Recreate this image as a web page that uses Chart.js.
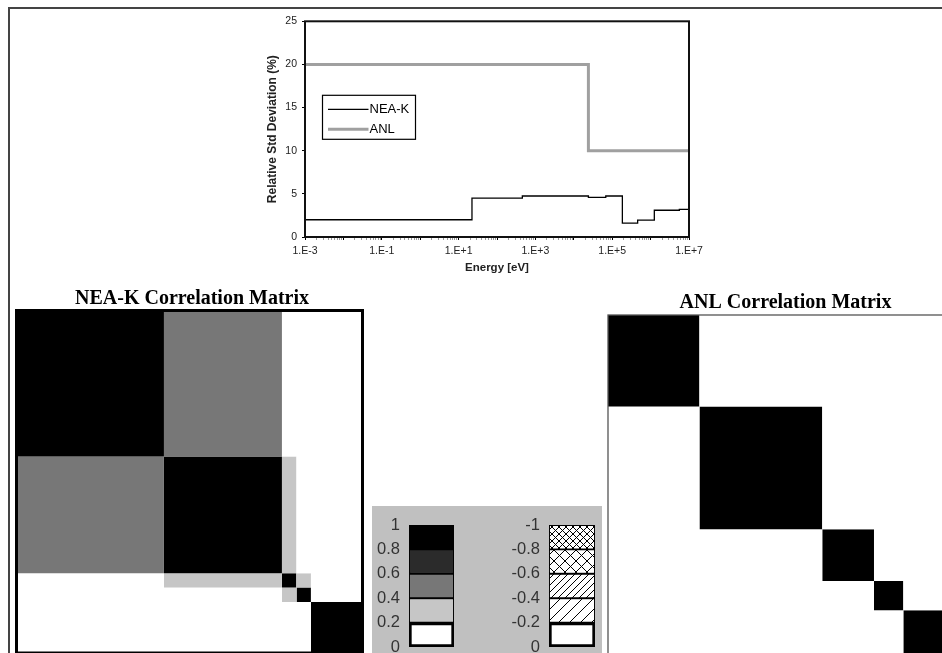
<!DOCTYPE html>
<html><head><meta charset="utf-8">
<script src="https://cdn.jsdelivr.net/npm/chart.js@4.4.1/dist/chart.umd.min.js"></script>
<style>
html,body{margin:0;padding:0;width:942px;height:653px;overflow:hidden;background:#fff;}
#stage{position:relative;width:942px;height:653px;overflow:hidden;}
canvas{position:absolute;}
.frameTop{position:absolute;left:8px;top:7px;width:934px;height:2px;background:#444;}
.frameLeft{position:absolute;left:8px;top:7px;width:2px;height:646px;background:#444;}
.panel{position:absolute;left:372px;top:506px;width:230px;height:147px;background:#c0c0c0;}
</style></head><body><div id="stage">
<div class="frameTop"></div><div class="frameLeft"></div><div class="panel"></div>
<canvas id="cStd" width="460" height="275" style="left:250px;top:10px"></canvas>
<canvas id="cNea" width="360" height="380" style="left:10px;top:287px"></canvas>
<canvas id="cAnl" width="363" height="380" style="left:600px;top:291px"></canvas>
<canvas id="cPos" width="82" height="160" style="left:372px;top:506px"></canvas>
<canvas id="cNeg" width="85" height="160" style="left:510px;top:506px"></canvas>
</div>
<script>
// ---------- data ----------
const energyTicks = [1e-3, 1e-1, 1e1, 1e3, 1e5, 1e7];
const energyTickLabels = ['1.E-3', '1.E-1', '1.E+1', '1.E+3', '1.E+5', '1.E+7'];
const stdTicks = [0, 5, 10, 15, 20, 25];
const neaEnergy = [1e-3, 22.3, 457, 2.4e4, 6.8e4, 1.84e5, 4.6e5, 1.25e6, 5.6e6, 1e7];
const neaStd    = [2.0, 4.5, 4.75, 4.6, 4.75, 1.6, 1.95, 3.1, 3.2, 3.2];
const anlEnergy = [1e-3, 2.4e4, 1e7];
const anlStd    = [20, 10, 10];

// correlation matrix group boundaries (log10 of energy in eV)
const neaBounds = [-3, 1.26, 4.68, 5.10, 5.52, 7];
const neaCorr = [
  [1.0, 0.5, 0.0, 0.0, 0.0],
  [0.5, 1.0, 0.3, 0.0, 0.0],
  [0.0, 0.3, 1.0, 0.3, 0.0],
  [0.0, 0.0, 0.3, 1.0, 0.0],
  [0.0, 0.0, 0.0, 0.0, 1.0]
];
const anlBounds = [-3, -0.35, 3.21, 4.71, 5.56, 7];
const anlCorr = [
  [1, 0, 0, 0, 0],
  [0, 1, 0, 0, 0],
  [0, 0, 1, 0, 0],
  [0, 0, 0, 1, 0],
  [0, 0, 0, 0, 1]
];

// colour key
const posEdges  = [0, 0.2, 0.4, 0.6, 0.8, 1];
const posLabels = ['0', '0.2', '0.4', '0.6', '0.8', '1'];
const posColors = ['#ffffff', '#c6c6c6', '#777777', '#2b2b2b', '#000000'];
const negEdges  = [-1, -0.8, -0.6, -0.4, -0.2, 0];
const negLabels = ['-1', '-0.8', '-0.6', '-0.4', '-0.2', '0'];
const negHatch  = ['cross-dense', 'cross-sparse', 'diag-dense', 'diag-sparse', 'none'];

// ---------- helpers ----------
Chart.defaults.font.family = '"Liberation Sans", Arial, sans-serif';
Chart.defaults.animation = false;

function colorFor(v) {
  for (let i = 0; i < posColors.length; i++) {
    if (v < posEdges[i + 1] || i === posColors.length - 1) return posColors[i];
  }
}
function hatch(kind) {
  if (kind === 'none') return '#ffffff';
  const s = kind.endsWith('dense') ? 7 : 11;
  const c = document.createElement('canvas'); c.width = c.height = s;
  const g = c.getContext('2d');
  g.fillStyle = '#fff'; g.fillRect(0, 0, s, s);
  g.strokeStyle = '#000'; g.lineWidth = 1;
  g.beginPath();
  g.moveTo(0, s); g.lineTo(s, 0);
  g.moveTo(-s / 2, s / 2); g.lineTo(s / 2, -s / 2);
  g.moveTo(s / 2, s * 1.5); g.lineTo(s * 1.5, s / 2);
  if (kind.startsWith('cross')) {
    g.moveTo(0, 0); g.lineTo(s, s);
    g.moveTo(-s / 2, s / 2); g.lineTo(s / 2, s * 1.5);
    g.moveTo(s / 2, -s / 2); g.lineTo(s * 1.5, s / 2);
  }
  g.stroke();
  return g.createPattern(c, 'repeat');
}
function framePlugin(width, color, outset) {
  return { id: 'frame', afterDraw(chart) {
    const a = chart.chartArea, c = chart.ctx;
    c.save(); c.strokeStyle = color; c.lineWidth = width;
    c.strokeRect(a.left - outset, a.top - outset, a.width + 2 * outset, a.height + 2 * outset);
    c.restore();
  }};
}
function sameVal(a, b) { return Math.abs(Math.log10(a) - Math.log10(b)) < 1e-6; }

// ---------- top chart ----------
const insideLegend = { id: 'insideLegend', afterDatasetsDraw(chart) {
  const { ctx, chartArea: a } = chart;
  const x = a.left + 17.5, y = a.top + 74, w = 93, h = 44;
  ctx.save();
  ctx.fillStyle = '#fff'; ctx.fillRect(x, y, w, h);
  ctx.strokeStyle = '#000'; ctx.lineWidth = 1.2; ctx.strokeRect(x, y, w, h);
  chart.data.datasets.forEach((ds, i) => {
    const ly = y + 14 + i * 20;
    ctx.strokeStyle = ds.borderColor; ctx.lineWidth = ds.borderWidth;
    ctx.beginPath(); ctx.moveTo(x + 5.5, ly); ctx.lineTo(x + 46, ly); ctx.stroke();
    ctx.fillStyle = '#000'; ctx.font = '13px "Liberation Sans"'; ctx.textBaseline = 'middle';
    ctx.fillText(ds.label, x + 47, ly + 0.5);
  });
  ctx.restore();
}};

new Chart(document.getElementById('cStd'), {
  type: 'line',
  data: { datasets: [
    { label: 'NEA-K', data: neaEnergy.map((e, i) => ({ x: e, y: neaStd[i] })), stepped: 'before',
      borderColor: '#000', borderWidth: 1.3, pointRadius: 0, fill: false },
    { label: 'ANL', data: anlEnergy.map((e, i) => ({ x: e, y: anlStd[i] })), stepped: 'before',
      borderColor: '#a0a0a0', borderWidth: 3, pointRadius: 0, fill: false }
  ]},
  options: {
    responsive: false, events: [],
    layout: { padding: { left: 0, right: 21, top: 11, bottom: 0 } },
    plugins: { legend: { display: false }, tooltip: { enabled: false } },
    scales: {
      x: { type: 'logarithmic', min: 1e-3, max: 1e7,
        afterBuildTicks: s => {
          const t = [];
          for (let e = -3; e <= 7; e++) for (let m = 1; m <= 9; m++) {
            const v = m * Math.pow(10, e); if (v > 1.0001e7) break;
            t.push({ value: v, major: m === 1 });
          }
          s.ticks = t;
        },
        afterFit: s => { s.height = 48; },
        ticks: { autoSkip: false, maxRotation: 0, minRotation: 0, padding: 5, color: '#222',
          font: { size: 10.5 },
          callback: v => { const k = energyTicks.findIndex(t => sameVal(t, v)); return k >= 0 ? energyTickLabels[k] : ''; } },
        grid: { display: true, drawOnChartArea: false, drawTicks: true, tickLength: 3,
          tickColor: c => (c.tick && c.tick.major) ? '#000' : '#9a9a9a' },
        border: { display: false },
        title: { display: true, text: 'Energy [eV]', color: '#222',
          font: { size: 11.5, weight: 'bold' }, padding: { top: 0, bottom: 10 } }
      },
      y: { type: 'linear', min: 0, max: 25,
        afterBuildTicks: s => { s.ticks = stdTicks.map(v => ({ value: v })); },
        afterFit: s => { s.width = 55; },
        ticks: { padding: 5, color: '#222', font: { size: 10.5 } },
        grid: { display: true, drawOnChartArea: false, drawTicks: true, tickLength: 3, tickColor: '#000' },
        border: { display: false },
        title: { display: true, text: 'Relative Std Deviation (%)', color: '#222',
          font: { size: 12, weight: 'bold' }, padding: { top: 15, bottom: 0 } }
      }
    }
  },
  plugins: [insideLegend, framePlugin(2, '#111', 0)]
});

// ---------- correlation matrices ----------
function cellDatasets(bounds, corr) {
  const ds = [];
  for (let i = 0; i < corr.length; i++) for (let j = 0; j < corr[i].length; j++) {
    ds.push({
      data: [{ x: bounds[j], y: bounds[i] }, { x: bounds[j + 1], y: bounds[i] }],
      fill: { value: bounds[i + 1] }, backgroundColor: colorFor(corr[i][j]),
      borderColor: 'transparent', borderWidth: 0, pointRadius: 0, pointHoverRadius: 0
    });
  }
  return ds;
}
function matrixChart(id, title, bounds, corr, pad, sideW, frame) {
  return new Chart(document.getElementById(id), {
    type: 'line',
    data: { datasets: cellDatasets(bounds, corr) },
    options: {
      responsive: false, events: [],
      layout: { padding: pad },
      plugins: { legend: { display: false }, tooltip: { enabled: false },
        title: { display: true, text: title, color: '#000', padding: 0,
          font: { family: '"Liberation Serif", "Times New Roman", serif', size: 20, weight: 'bold' } } },
      scales: {
        x: { type: 'linear', min: bounds[0], max: bounds[bounds.length - 1], display: false },
        y: { type: 'linear', min: bounds[0], max: bounds[bounds.length - 1], reverse: true,
          position: 'right', display: true,
          afterFit: s => { s.width = sideW; },
          ticks: { display: false }, grid: { display: false, drawTicks: false }, border: { display: false } }
      }
    },
    plugins: [frame]
  });
}
matrixChart('cNea', 'NEA-K Correlation Matrix', neaBounds, neaCorr,
  { left: 7, right: 3, top: 0, bottom: 14.5 }, 5, framePlugin(3, '#000', 0.5));
matrixChart('cAnl', 'ANL Correlation Matrix', anlBounds, anlCorr,
  { left: 8, right: 0, top: 0, bottom: 11 }, 10, framePlugin(1.3, '#555', 0));

// ---------- colour key ----------
function keyChart(id, edges, labels, fills, reverse, axisW) {
  return new Chart(document.getElementById(id), {
    type: 'bar',
    data: { labels: [''], datasets: fills.map((f, i) => ({
      data: [[edges[i], edges[i + 1]]], backgroundColor: f, borderColor: '#000',
      borderWidth: (edges[i] === 0 || edges[i + 1] === 0) ? 3 : 1.3, borderSkipped: false,
      grouped: false, barPercentage: 1, categoryPercentage: 1
    })) },
    options: {
      responsive: false, events: [],
      layout: { padding: { left: 0, right: 0, top: 19, bottom: 19 } },
      plugins: { legend: { display: false }, tooltip: { enabled: false } },
      scales: {
        x: { display: false },
        y: { min: edges[0], max: edges[edges.length - 1], reverse: reverse,
          afterBuildTicks: s => { s.ticks = edges.map(v => ({ value: v })); },
          afterFit: s => { s.width = axisW; },
          ticks: { padding: 9, color: '#333', font: { size: 16.5 },
            callback: (v) => labels[edges.findIndex(e => Math.abs(e - v) < 1e-9)] },
          grid: { display: false, drawTicks: false }, border: { display: false } }
      }
    }
  });
}
keyChart('cPos', posEdges, posLabels, posColors, false, 37);
keyChart('cNeg', negEdges, negLabels, negHatch.map(hatch), true, 39);
</script>
</body></html>
